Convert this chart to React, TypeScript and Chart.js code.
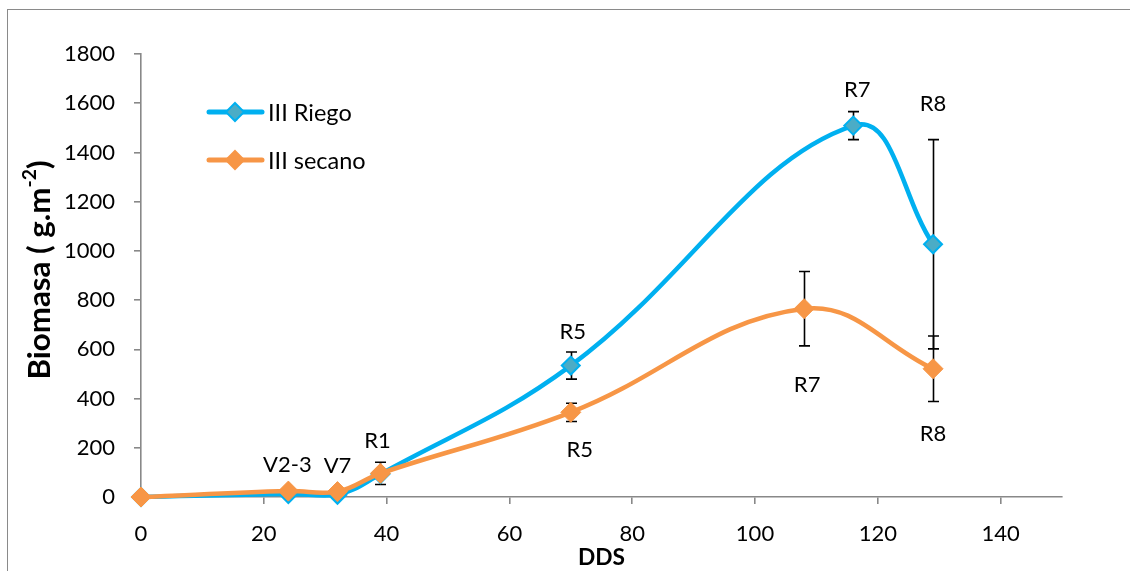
import React, { useEffect, useRef } from 'react';
import { Chart, registerables } from 'chart.js';

Chart.register(...registerables);

// ---- data ----
const riegoX = [0, 24, 32, 39, 70, 116, 129];
const riegoY = [0, 12, 9, 93, 534, 1509, 1027];
const riegoErr = [0, 0, 0, 0, 55, 57, 425];
const riegoStage = ['', '', '', '', 'R5', 'R7', 'R8'];

const secanoX = [0, 24, 32, 39, 70, 108, 129];
const secanoY = [0, 24, 22, 96, 344, 765, 521];
const secanoErr = [0, 0, 0, 45, 37, 151, 133];
const secanoStage = ['', 'V2-3', 'V7', 'R1', 'R5', 'R7', 'R8'];

const seriesNames = ['III Riego', 'III secano'];
const xTitle = 'DDS';
const yTitleMain = 'Biomasa ( g.m';
const yTitleSup = '-2';
const yTitleEnd = ')';

// ---- styles ----
const FONT = 'Lato, "Open Sans", sans-serif';
const BLUE = '#00B0F0';
const BLUE_FILL = '#4BACC6';
const ORANGE = '#F79646';
const AXIS = '#888888';

// pixel offsets of stage labels from their points
const riegoLabelOffsets = [[0, 0], [0, 0], [0, 0], [0, 0], [2, -34], [4, -36], [0, -140]];
const secanoLabelOffsets = [[0, 0], [-1, -26], [0, -26], [-3, -32], [9, 38], [3, 76], [0, 65]];

const toPoints = (xs: number[], ys: number[]) => xs.map((x, i) => ({ x, y: ys[i] }));

const errorBarPlugin = {
  id: 'errorBars',
  beforeDatasetsDraw(chart: any) {
    const { ctx, scales } = chart;
    const errs = [riegoErr, secanoErr];
    const ys = [riegoY, secanoY];
    const xs = [riegoX, secanoX];
    ctx.save();
    ctx.strokeStyle = '#000';
    ctx.lineWidth = 1.6;
    for (let s = 0; s < 2; s++) {
      for (let i = 0; i < errs[s].length; i++) {
        const e = errs[s][i];
        if (!e) continue;
        const px = Math.round(scales.x.getPixelForValue(xs[s][i])) + 0.5;
        const top = scales.y.getPixelForValue(ys[s][i] + e);
        const bot = scales.y.getPixelForValue(ys[s][i] - e);
        ctx.beginPath();
        ctx.moveTo(px, top);
        ctx.lineTo(px, bot);
        ctx.moveTo(px - 5.5, top);
        ctx.lineTo(px + 5.5, top);
        ctx.moveTo(px - 5.5, bot);
        ctx.lineTo(px + 5.5, bot);
        ctx.stroke();
      }
    }
    ctx.restore();
  },
};

const fitFont = (ctx: CanvasRenderingContext2D, text: string, weight: string, target: number) => {
  ctx.font = `${weight} 20px ${FONT}`;
  const w = ctx.measureText(text).width;
  return (20 * target) / w;
};

const annotationsPlugin = {
  id: 'annotations',
  afterDraw(chart: any) {
    const { ctx, scales, chartArea } = chart;
    ctx.save();
    // stage labels
    ctx.font = `22px ${FONT}`;
    ctx.fillStyle = '#000';
    ctx.textAlign = 'center';
    ctx.textBaseline = 'middle';
    const sets: [number[], number[], string[], number[][]][] = [
      [riegoX, riegoY, riegoStage, riegoLabelOffsets],
      [secanoX, secanoY, secanoStage, secanoLabelOffsets],
    ];
    for (const [xs, ys, labels, offs] of sets) {
      labels.forEach((lab, i) => {
        if (!lab) return;
        const px = scales.x.getPixelForValue(xs[i]) + offs[i][0];
        const py = scales.y.getPixelForValue(ys[i]) + offs[i][1];
        ctx.fillText(lab, px, py);
      });
    }
    // legend
    const legend = [
      { name: seriesNames[0], color: BLUE, fill: BLUE_FILL, y: 112 },
      { name: seriesNames[1], color: ORANGE, fill: ORANGE, y: 160 },
    ];
    for (const it of legend) {
      ctx.strokeStyle = it.color;
      ctx.lineWidth = 5;
      ctx.lineCap = 'round';
      ctx.beginPath();
      ctx.moveTo(209, it.y);
      ctx.lineTo(262, it.y);
      ctx.stroke();
      ctx.beginPath();
      ctx.moveTo(235, it.y - 9);
      ctx.lineTo(244, it.y);
      ctx.lineTo(235, it.y + 9);
      ctx.lineTo(226, it.y);
      ctx.closePath();
      ctx.fillStyle = it.fill;
      ctx.fill();
      ctx.lineWidth = 2;
      ctx.strokeStyle = it.color;
      ctx.stroke();
      ctx.fillStyle = '#000';
      ctx.textAlign = 'left';
      ctx.font = `23.5px ${FONT}`;
      ctx.fillText(it.name, 268, it.y + 1);
    }
    // x title
    const xs = fitFont(ctx, xTitle, 'bold', 47);
    ctx.font = `bold ${xs}px ${FONT}`;
    ctx.textAlign = 'center';
    ctx.fillText(xTitle, (chartArea.left + chartArea.right) / 2, 558);
    // y title with superscript
    ctx.translate(40, 270);
    ctx.rotate(-Math.PI / 2);
    const ys = fitFont(ctx, yTitleMain + yTitleEnd, 'bold', 200);
    const ss = ys * 0.62;
    ctx.font = `bold ${ys}px ${FONT}`;
    const w1 = ctx.measureText(yTitleMain).width;
    const w3 = ctx.measureText(yTitleEnd).width;
    ctx.font = `bold ${ss}px ${FONT}`;
    const w2 = ctx.measureText(yTitleSup).width;
    let x0 = -(w1 + w2 + w3) / 2;
    ctx.textAlign = 'left';
    ctx.font = `bold ${ys}px ${FONT}`;
    ctx.fillText(yTitleMain, x0, 0);
    x0 += w1;
    ctx.font = `bold ${ss}px ${FONT}`;
    ctx.fillText(yTitleSup, x0, -ys * 0.33);
    x0 += w2;
    ctx.font = `bold ${ys}px ${FONT}`;
    ctx.fillText(yTitleEnd, x0, 0);
    ctx.restore();
  },
};

export default function App() {
  const ref = useRef<HTMLCanvasElement>(null);
  useEffect(() => {
    if (!ref.current) return;
    const chart = new Chart(ref.current, {
      type: 'line',
      data: {
        datasets: [
          {
            label: seriesNames[0],
            data: toPoints(riegoX, riegoY),
            borderColor: BLUE,
            backgroundColor: BLUE_FILL,
            borderWidth: 4.5,
            tension: 0.4,
            pointStyle: 'rectRot',
            pointRadius: 9,
            pointBorderWidth: 2,
            pointBorderColor: BLUE,
            pointBackgroundColor: BLUE_FILL,
            clip: false,
            order: 1,
          },
          {
            label: seriesNames[1],
            data: toPoints(secanoX, secanoY),
            borderColor: ORANGE,
            backgroundColor: ORANGE,
            borderWidth: 4.5,
            tension: 0.4,
            pointStyle: 'rectRot',
            pointRadius: 10,
            pointBorderWidth: 1,
            pointBorderColor: ORANGE,
            pointBackgroundColor: ORANGE,
            clip: false,
            order: 0,
          },
        ],
      },
      options: {
        responsive: false,
        animation: false,
        layout: { padding: { top: 54, right: 68, left: 0, bottom: 0 } },
        plugins: { legend: { display: false }, tooltip: { enabled: false } },
        scales: {
          x: {
            type: 'linear',
            min: 0,
            max: 150,
            afterFit: (s: any) => { s.height = 74; },
            border: { color: AXIS, width: 1.6 },
            grid: { display: true, drawOnChartArea: false, drawTicks: true, tickLength: 7, color: AXIS, lineWidth: 1.6 },
            ticks: { stepSize: 20, includeBounds: false, color: '#000', font: { family: FONT, size: 22 }, padding: 17, maxRotation: 0, callback: (v: any) => String(v) },
          },
          y: {
            min: 0,
            max: 1800,
            afterFit: (s: any) => { s.width = 141; },
            border: { color: AXIS, width: 1.6 },
            grid: { display: true, drawOnChartArea: false, drawTicks: true, tickLength: 7, color: AXIS, lineWidth: 1.6 },
            ticks: { stepSize: 200, color: '#000', font: { family: FONT, size: 22 }, padding: 19, callback: (v: any) => String(v) },
          },
        },
      },
      plugins: [errorBarPlugin, annotationsPlugin],
    });
    return () => chart.destroy();
  }, []);
  return (
    <div style={{ position: 'fixed', left: 0, top: 0, width: 1130, height: 571, overflow: 'hidden', background: '#fff' }}>
      <div style={{ position: 'absolute', left: 7, top: 9, width: 1200, height: 700, borderLeft: '1.5px solid #8a8a8a', borderTop: '1.5px solid #8a8a8a' }} />
      <canvas ref={ref} width={1130} height={571} style={{ position: 'absolute', left: 0, top: 0 }} />
    </div>
  );
}
